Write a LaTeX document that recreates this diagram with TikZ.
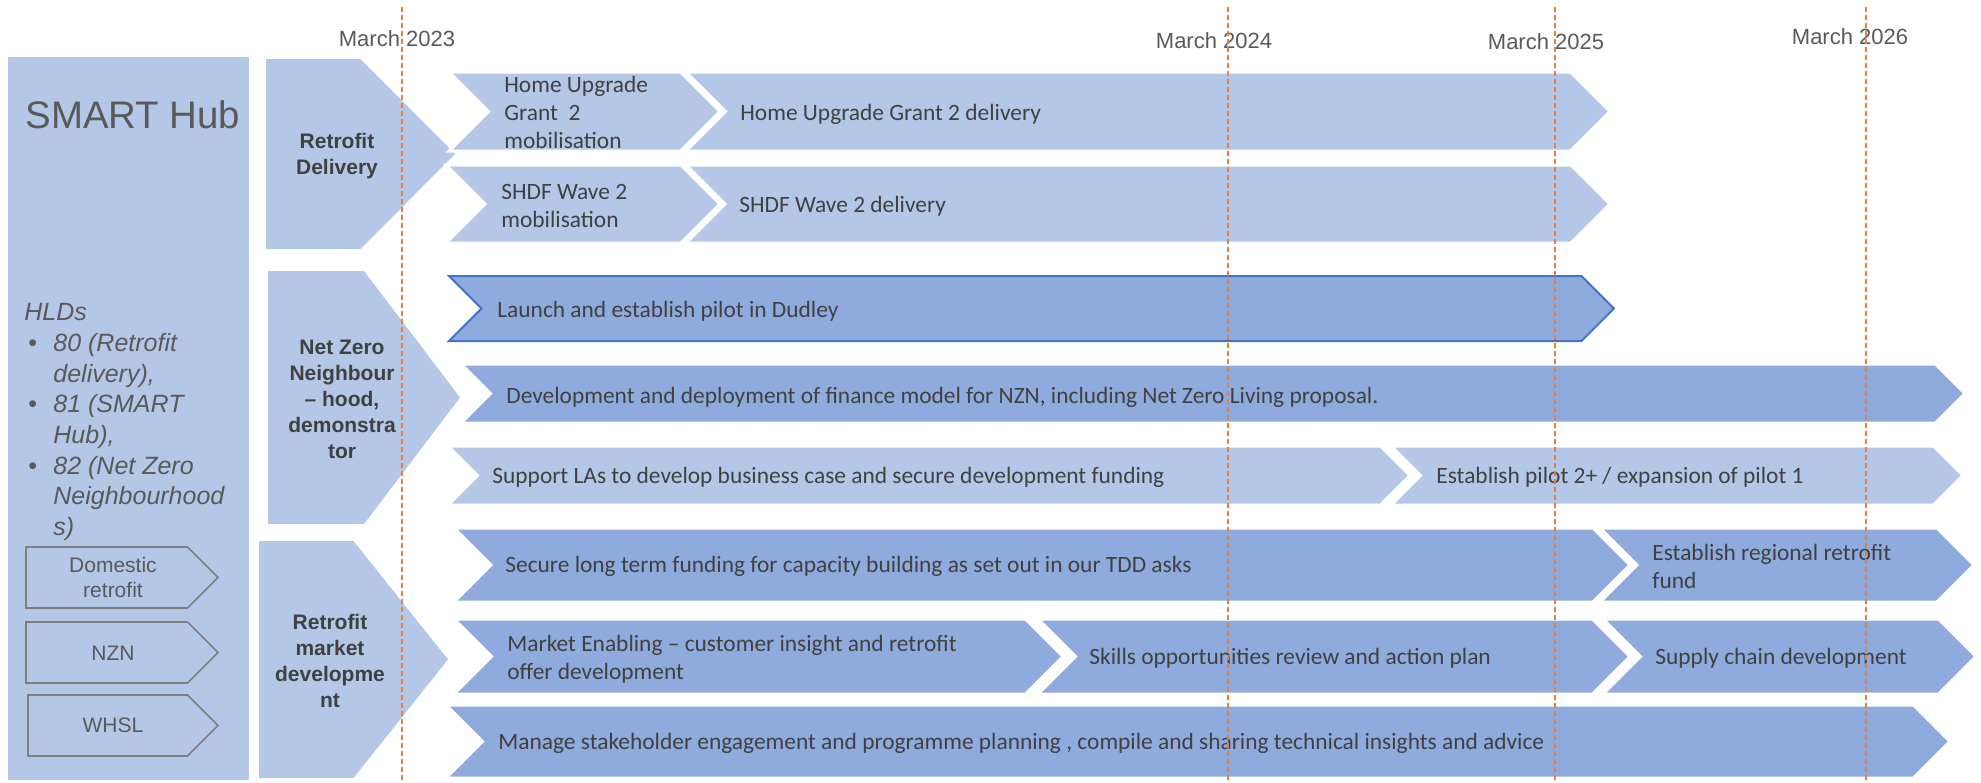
\documentclass[tikz,border=0pt]{standalone}
\usepackage{fontspec}
\setmainfont{Carlito}
\newfontfamily\arialfont{Liberation Sans}
\definecolor{Lite}{HTML}{B4C7E7}
\definecolor{Deep}{HTML}{8FAADC}
\definecolor{Edge}{HTML}{4472C4}
\definecolor{Ink}{HTML}{404040}
\definecolor{Grey}{HTML}{595959}
\definecolor{Frame}{HTML}{7F7F7F}
\definecolor{Orange}{HTML}{ED7D31}
% notched chevron: [style]{x left}{x tip}{y top}{y bottom}
\newcommand{\chevbar}[5][]{%
  \pgfmathsetmacro\chd{0.5*min(#3-#2,#5-#4)}%
  \pgfmathsetmacro\chm{(#4+#5)/2}%
  \path[#1] (#2,#4) -- ({#3-\chd},#4) -- (#3,\chm) -- ({#3-\chd},#5) -- (#2,#5) -- ({#2+\chd},\chm) -- cycle;}
% flat-left pentagon, same arguments
\newcommand{\platebar}[5][]{%
  \pgfmathsetmacro\chd{0.5*min(#3-#2,#5-#4)}%
  \pgfmathsetmacro\chm{(#4+#5)/2}%
  \path[#1] (#2,#4) -- ({#3-\chd},#4) -- (#3,\chm) -- ({#3-\chd},#5) -- (#2,#5) -- cycle;}
\tikzset{
  lite/.style={fill=Lite,draw=white,line width=1.5pt},
  deep/.style={lite,fill=Deep},
  pilot/.style={fill=Deep,draw=Edge,line width=1pt},
  catbox/.style={fill=Lite},
  tag/.style={draw=Frame,line width=.8pt},
  barlab/.style={anchor=base west,align=left,text=Ink,inner sep=0pt,font=\fontsize{11.7}{14}\selectfont},
  barlabs/.style={barlab,anchor=west},
  catlab/.style={align=center,text=Ink,inner sep=0pt,font=\arialfont\bfseries\fontsize{10.5}{13}\selectfont},
  taglab/.style={align=center,text=Grey,inner sep=0pt,font=\arialfont\fontsize{10.5}{12.5}\selectfont},
  hldlab/.style={align=left,text=Grey,inner sep=0pt,font=\arialfont\itshape\fontsize{12.5}{15.35}\selectfont},
  datelab/.style={text=Grey,inner sep=0pt,font=\arialfont\fontsize{11}{13}\selectfont},
  milestone/.style={draw=Orange,line width=.75pt,dash pattern=on 2.5pt off 1.5pt}
}
\begin{document}
\begin{tikzpicture}[x=0.5pt,y=-0.5pt]
  \useasboundingbox (0,0) rectangle (1981,782);
  % left panel
  \fill[Lite] (8,57) rectangle (249,780);
  \node[anchor=base west,text=Grey,inner sep=0pt,font=\arialfont\fontsize{19.2}{23}\selectfont] (hub) at (25,128) {SMART Hub};
  \node[hldlab,anchor=north west] (hlds) at (24,303) {HLDs\\
    \hspace*{2pt}\makebox[12.5pt][l]{\upshape\textbullet}80 (Retrofit\\ \hspace*{14.5pt}delivery),\\
    \hspace*{2pt}\makebox[12.5pt][l]{\upshape\textbullet}81 (SMART\\ \hspace*{14.5pt}Hub),\\
    \hspace*{2pt}\makebox[12.5pt][l]{\upshape\textbullet}82 (Net Zero\\ \hspace*{14.5pt}Neighbourhood\\ \hspace*{14.5pt}s)};
  \platebar[tag]{26}{218}{547}{608}
  \platebar[tag]{26}{218}{622}{683}
  \platebar[tag]{28}{218}{695}{756}
  \node[taglab] (dom) at (113,577) {Domestic\\retrofit};
  \node[taglab] (nzn) at (113,653) {NZN};
  \node[taglab] (whsl) at (113,725) {WHSL};
  % workstreams
  \platebar[catbox]{266}{455}{59}{249}
  \platebar[catbox]{268}{460}{271}{524}
  \platebar[catbox]{259}{448}{541}{778}
  \node[catlab] (rd) at (337,156) {Retrofit\\Delivery};
  \node[catlab] (nzd) at (342,399) {Net Zero\\Neighbour\\– hood,\\demonstra\\tor};
  \node[catlab] (rmd) at (330,661) {Retrofit\\market\\developme\\nt};
  % bars
  \chevbar[lite]{449}{720}{72}{151}
  \chevbar[lite]{686}{1610}{72}{151}
  \chevbar[lite]{446}{720}{165}{243}
  \chevbar[lite]{686}{1610}{165}{243}
  \chevbar[pilot]{449}{1614}{276}{341}
  \chevbar[deep]{461}{1965}{364}{423}
  \chevbar[lite]{448}{1410}{446}{505}
  \chevbar[lite]{1391}{1963}{446}{505}
  \chevbar[deep]{454}{1630}{528}{602}
  \chevbar[deep]{1600}{1974}{528}{602}
  \chevbar[deep]{454}{1063}{619}{694}
  \chevbar[deep]{1038}{1630}{619}{694}
  \chevbar[deep]{1603}{1976}{619}{694}
  \chevbar[deep]{446}{1950}{705}{778}
  \node[barlabs] (hugm) at (504,112) {Home Upgrade\\Grant~~2\\mobilisation};
  \node[barlab] (hugd) at (740,120) {Home Upgrade Grant 2 delivery};
  \node[barlabs] (shdfm) at (501,206) {SHDF Wave 2\\mobilisation};
  \node[barlab] (shdfd) at (739,212) {SHDF Wave 2 delivery};
  \node[barlab] (dud) at (497,317) {Launch and establish pilot in Dudley};
  \node[barlab] (fin) at (506,403) {Development and deployment of finance model for NZN, including Net Zero Living proposal.};
  \node[barlab] (las) at (492,483) {Support LAs to develop business case and secure development funding};
  \node[barlab] (pil) at (1436,483) {Establish pilot 2+ / expansion of pilot 1};
  \node[barlab] (fund) at (505,572) {Secure long term funding for capacity building as set out in our TDD asks};
  \node[barlabs] (reg) at (1652,566) {Establish regional retrofit\\fund};
  \node[barlabs] (mkt) at (507,659) {Market Enabling – customer insight and retrofit\\offer development};
  \node[barlab] (skl) at (1089,664) {Skills opportunities review and action plan};
  \node[barlab] (sup) at (1655,664) {Supply chain development};
  \node[barlab] (stk) at (498,749) {Manage stakeholder engagement and programme planning , compile and sharing technical insights and advice};
  % milestones
  \foreach \lx/\ly/\dx/\yr in {397/39/402/2023,1214/41/1228/2024,1546/42/1555/2025,1850/37/1866/2026}{
    \node[datelab] (m\yr) at (\lx,\ly) {March \yr};
    \draw[milestone] (\dx,7) -- (\dx,782);
  }
\end{tikzpicture}
\end{document}
